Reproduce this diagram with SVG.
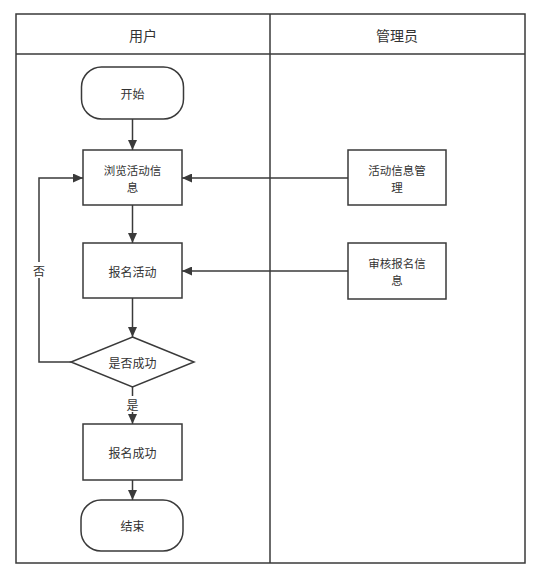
<svg xmlns="http://www.w3.org/2000/svg" width="546" height="581" viewBox="0 0 546 581">
<defs>
<style>
.ln{fill:none;stroke:#3a3a3a;stroke-width:1.5}
.nd{fill:#fff;stroke:#3a3a3a;stroke-width:1.5}
.tx{font-family:"Noto Sans CJK SC","Noto Sans",sans-serif;font-size:12px;fill:#333;text-anchor:middle;dominant-baseline:central}
.sm{font-size:11.5px}
.hd{font-size:14px}
.lb{fill:#fff;stroke:none}
</style>
<marker id="ar" viewBox="0 0 10 10" refX="10" refY="5" markerWidth="10" markerHeight="9" markerUnits="userSpaceOnUse" orient="auto" preserveAspectRatio="none">
<path d="M0,0 L10,5 L0,10 Z" fill="#3a3a3a"/>
</marker>
</defs>
<rect width="546" height="581" fill="#fff"/>
<g id="pool">
<rect class="ln" x="16" y="14" width="509" height="549"/>
<line class="ln" x1="16" y1="54" x2="525" y2="54"/>
<line class="ln" x1="270" y1="14" x2="270" y2="563"/>
<text class="tx hd" x="143" y="35">用户</text>
<text class="tx hd" x="397" y="35">管理员</text>
</g>
<g id="connectors">
<line class="ln" x1="132.5" y1="119" x2="132.5" y2="150" marker-end="url(#ar)"/>
<line class="ln" x1="132.5" y1="205" x2="132.5" y2="243" marker-end="url(#ar)"/>
<line class="ln" x1="132.5" y1="298" x2="132.5" y2="337" marker-end="url(#ar)"/>
<line class="ln" x1="132.5" y1="387" x2="132.5" y2="424" marker-end="url(#ar)"/>
<line class="ln" x1="132.5" y1="480" x2="132.5" y2="500" marker-end="url(#ar)"/>
<line class="ln" x1="348" y1="178" x2="182" y2="178" marker-end="url(#ar)"/>
<line class="ln" x1="348" y1="271" x2="182" y2="271" marker-end="url(#ar)"/>
<polyline class="ln" points="71,362 39,362 39,178 83,178" marker-end="url(#ar)"/>
<rect class="lb" x="31" y="262" width="16" height="16"/>
<text class="tx" x="39" y="270">否</text>
<rect class="lb" x="125" y="396" width="15" height="16"/>
<text class="tx" x="132.5" y="404">是</text>
</g>
<g id="start">
<rect class="nd" x="81.5" y="67" width="102" height="52" rx="20" ry="20"/>
<text class="tx" x="132.5" y="93">开始</text>
</g>
<g id="browse">
<rect class="nd" x="83" y="150" width="99" height="55"/>
<text class="tx sm" x="132.5" y="170">浏览活动信</text>
<text class="tx sm" x="132.5" y="186.8">息</text>
</g>
<g id="signup">
<rect class="nd" x="83" y="243" width="99" height="55"/>
<text class="tx" x="132.5" y="271">报名活动</text>
</g>
<g id="decision">
<polygon class="nd" points="132.5,337 194,362 132.5,387 71,362"/>
<text class="tx" x="132.5" y="362">是否成功</text>
</g>
<g id="success">
<rect class="nd" x="83" y="424" width="99" height="56"/>
<text class="tx" x="132.5" y="452">报名成功</text>
</g>
<g id="end">
<rect class="nd" x="81" y="500" width="102" height="51" rx="20" ry="20"/>
<text class="tx" x="132.5" y="525.5">结束</text>
</g>
<g id="manage">
<rect class="nd" x="348" y="150" width="98" height="55"/>
<text class="tx sm" x="397" y="170">活动信息管</text>
<text class="tx sm" x="397" y="186.8">理</text>
</g>
<g id="review">
<rect class="nd" x="348" y="243" width="98" height="56"/>
<text class="tx sm" x="397" y="262.7">审核报名信</text>
<text class="tx sm" x="397" y="279.5">息</text>
</g>
</svg>
